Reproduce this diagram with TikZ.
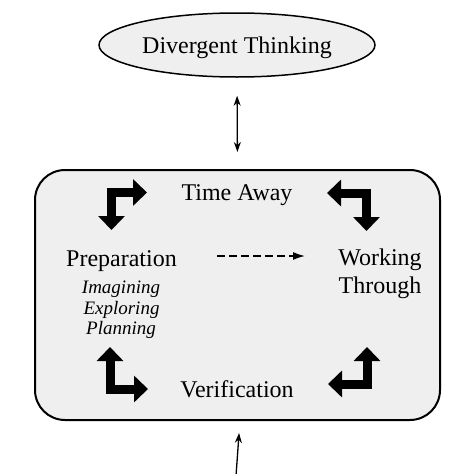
\documentclass[tikz,border=0pt]{standalone}
\usepackage{fontspec}
\setmainfont{Liberation Serif}
\usetikzlibrary{arrows.meta,shapes.geometric}
\definecolor{panel}{HTML}{EFEFEF}
\begin{document}
\begin{tikzpicture}[x=1pt,y=-1pt,
  lbl/.style={font=\fontsize{24}{28}\selectfont, inner sep=0pt, anchor=base},
  sublbl/.style={font=\fontsize{19}{21}\selectfont\itshape, inner sep=0pt, anchor=base},
  blockarrow/.style={line width=9pt, line join=miter,
    {Triangle[width=26pt,length=14pt]}-{Triangle[width=26pt,length=14pt]}},
  twoway/.style={line width=1.3pt, {Stealth[length=10pt,width=7pt]}-{Stealth[length=10pt,width=7pt]}},
  oneway/.style={line width=1.3pt, -{Stealth[length=10pt,width=7pt]}},
  dashedarrow/.style={line width=1.5pt, dash pattern=on 8pt off 4pt, -{Latex[length=12pt,width=8pt]}}
]
\useasboundingbox (0,0) rectangle (474,474);

\node[ellipse, draw, line width=1.5pt, fill=panel, minimum width=276pt, minimum height=64pt,
      inner sep=0pt, text depth=0pt, font=\fontsize{24}{28}\selectfont] (dt) at (237,45) {Divergent Thinking};

\node[draw, rounded corners=30pt, line width=2pt, fill=panel,
      minimum width=405pt, minimum height=250pt] (box) at (237.5,295) {};

\draw[twoway, shorten <=18pt, shorten >=17pt] (dt.south) -- (box.north);

\coordinate (src) at (236,476);
\coordinate (dst) at (240,420);
\draw[oneway, shorten >=13pt] (src) -- (dst);

\node[lbl] (time) at (237,200) {Time Away};
\node[lbl] (prep) at (121.5,266) {Preparation};
\node[sublbl] (imag) at (121,293) {Imagining};
\node[sublbl] (expl) at (121.5,314) {Exploring};
\node[sublbl] (plan) at (121,334) {Planning};
\node[lbl] (work) at (380,265) {Working};
\node[lbl] (thro) at (380,293) {Through};
\node[lbl] (veri) at (237,397) {Verification};

\coordinate (da) at (217,256);
\coordinate (db) at (305,256);
\draw[dashedarrow] (da) -- (db);

\draw[blockarrow] (111.5,230) -- (111.5,192.5) -- (147,192.5);
\draw[blockarrow] (327,193) -- (366.5,193) -- (366.5,231);
\draw[blockarrow] (110,347) -- (110,389) -- (148,389);
\draw[blockarrow] (367,347) -- (367,384) -- (328,384);
\end{tikzpicture}
\end{document}
